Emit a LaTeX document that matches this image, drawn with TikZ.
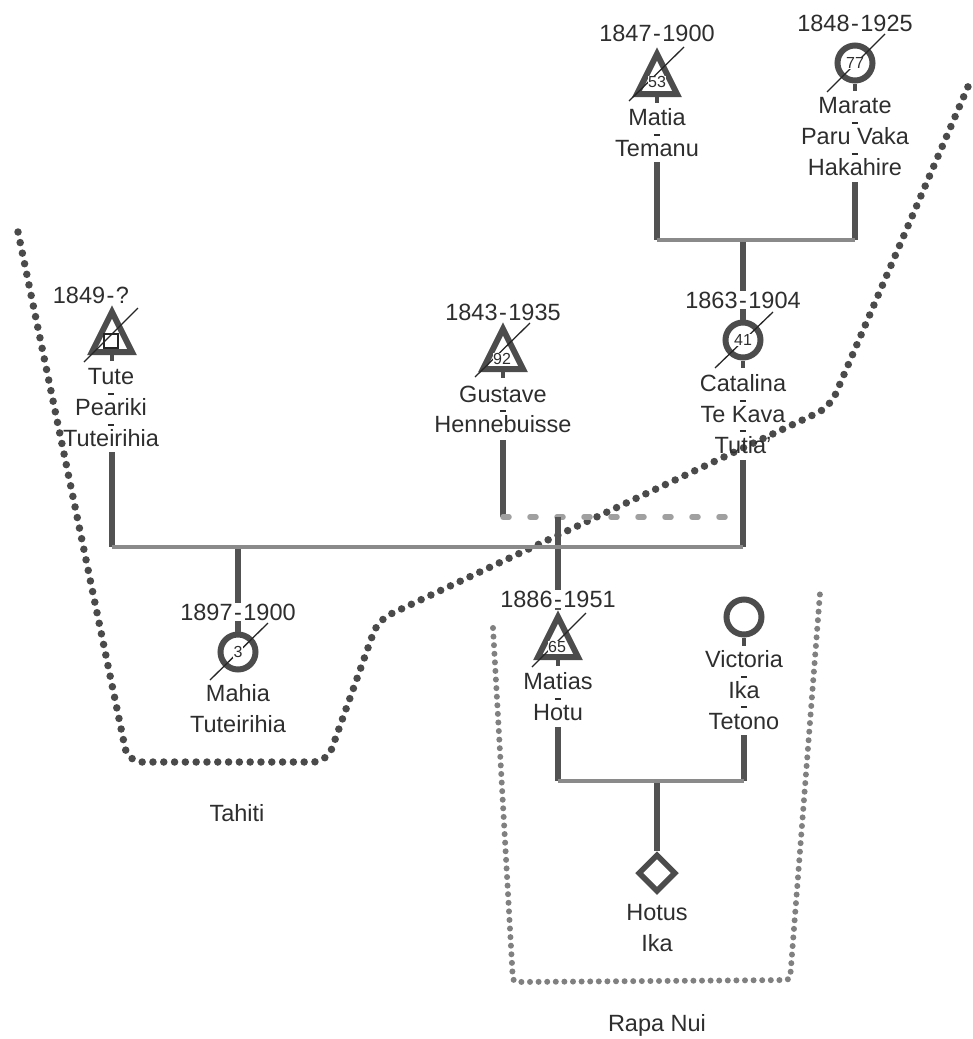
\documentclass[tikz,border=0pt]{standalone}
\usepackage{fontspec}
\setmainfont{Liberation Sans}
\usetikzlibrary{shapes.geometric}
\definecolor{tcol}{HTML}{2E2E2E}
\definecolor{scol}{HTML}{4C4C4C}
\definecolor{vcol}{HTML}{525252}
\definecolor{hcol}{HTML}{8A8A8A}
\definecolor{dcol}{HTML}{A0A0A0}
\definecolor{tahcol}{HTML}{4A4A4A}
\definecolor{rapcol}{HTML}{808080}
\newcommand{\sepbar}{\textcolor{tcol}{\rule[5.3pt]{6.2pt}{2pt}}}
\begin{document}
\begin{tikzpicture}[x=1pt,y=-1pt,
  datelab/.style={text=tcol, fill=white, inner sep=1pt, font=\fontsize{23.5}{28}\selectfont},
  placelab/.style={text=tcol, inner sep=0pt, font=\fontsize{23.5}{28}\selectfont},
  namelab/.style={text=tcol, inner sep=0pt, anchor=north, align=center, font=\fontsize{23.5}{28}\selectfont},
  numlab/.style={text=tcol, fill=white, inner sep=0.4pt, font=\fontsize{16}{16}\selectfont},
  femsym/.style={circle, draw=scol, fill=white, line width=6pt, minimum size=35pt, inner sep=0pt},
  unksym/.style={diamond, draw=scol, fill=white, line width=5.5pt, minimum size=38pt, inner sep=0pt, line join=miter},
  trisym/.style={draw=scol, fill=white, line width=6pt, line join=miter},
  vline/.style={draw=vcol, line width=5.5pt},
  stemline/.style={draw=scol, line width=4.5pt},
  hline/.style={draw=hcol, line width=4.5pt},
  dashline/.style={draw=dcol, line width=5.5pt, line cap=round, dash pattern=on 6pt off 21pt},
  slash/.style={draw=black!85, line width=1.3pt},
  tahdots/.style={draw=tahcol, line width=7.5pt, line cap=round, dash pattern=on 0pt off 10.8pt},
  rapdots/.style={draw=rapcol, line width=6pt, line cap=round, dash pattern=on 0pt off 8.6pt},
]
\useasboundingbox (0,0) rectangle (973,1039);

% ---------- dotted regions ----------
\draw[tahdots, rounded corners=14pt]
  (18,232) -- (128,762) -- (327,762) -- (378,620) -- (830,407) -- (970,82);
\draw[rapdots, rounded corners=4pt]
  (493,628) -- (513,982) -- (790,980) -- (820,593);

% ---------- named coordinates ----------
\coordinate (matiaStem) at (657,162);
\coordinate (marateStem) at (855,182);
\coordinate (u1L) at (657,240);
\coordinate (u1R) at (855,240);
\coordinate (u1M) at (743,240);
\coordinate (tuteStem) at (112,452);
\coordinate (catStem) at (743,460);
\coordinate (u2L) at (112,547);
\coordinate (u2R) at (743,547);
\coordinate (u2M) at (238,547);
\coordinate (gusStem) at (503,440);
\coordinate (u3L) at (503,517);
\coordinate (u3R) at (735,517);
\coordinate (u3M) at (558,517);
\coordinate (matiasTop) at (558,610);
\coordinate (matiasStem) at (558,727);
\coordinate (victStem) at (744,735);
\coordinate (u4L) at (558,781);
\coordinate (u4R) at (744,781);
\coordinate (u4M) at (657,781);

% ---------- symbols (circles, diamond) ----------
\node[femsym] (marate) at (855,63) {};
\node[femsym] (catalina) at (743,340) {};
\node[femsym] (mahia) at (238,652) {};
\node[femsym] (victoria) at (744,617) {};
\node[unksym] (hotus) at (657,873) {};

% ---------- connectors ----------
\draw[vline] (matiaStem) -- (u1L);
\draw[vline] (marateStem) -- (u1R);
\draw[vline] (u1M) -- (catalina.north);
\draw[hline] (u1L) -- (u1R);

\draw[vline] (tuteStem) -- (u2L);
\draw[vline] (catStem) -- (u2R);
\draw[vline] (u2M) -- (mahia.north);
\draw[vline] (gusStem) -- (u3L);
\draw[dashline] (u3L) -- (u3R);
\draw[vline] (u3M) -- (matiasTop);
\draw[hline] (u2L) -- (u2R);

\draw[vline] (matiasStem) -- (u4L);
\draw[vline] (victStem) -- (u4R);
\draw[vline] (u4M) -- (hotus.north);
\draw[hline] (u4L) -- (u4R);

% ---------- stems under symbols ----------
\draw[stemline] (marate.south) -- ++(0,7);
\draw[stemline] (catalina.south) -- ++(0,7);
\draw[stemline] (victoria.south) -- ++(0,8);

% ---------- triangles (males) ----------
\draw[trisym] (637,94) -- (657,54) -- (677,94) -- cycle;
\draw[stemline] (657,97) -- (657,103);
\draw[trisym] (483,369) -- (503,329) -- (523,369) -- cycle;
\draw[stemline] (503,372) -- (503,378);
\draw[trisym] (92,352) -- (112,312) -- (132,352) -- cycle;
\draw[stemline] (112,355) -- (112,361);
\draw[trisym] (538,657) -- (558,617) -- (578,657) -- cycle;
\draw[stemline] (558,660) -- (558,666);

% ---------- slashes (deceased) ----------
\coordinate (matiaC) at (657,74);
\coordinate (gusC) at (503,350);
\coordinate (tuteC) at (111,335);
\coordinate (matiasC) at (559,640);
\draw[slash] ([shift={(-28,27)}]matiaC) -- ([shift={(27,-27)}]matiaC);
\draw[slash] ([shift={(-28,27)}]gusC) -- ([shift={(27,-27)}]gusC);
\draw[slash] ([shift={(-27,27)}]tuteC) -- ([shift={(27,-27)}]tuteC);
\draw[slash] ([shift={(-27,27)}]matiasC) -- ([shift={(27,-27)}]matiasC);
\draw[slash] ([shift={(-28,29)}]marate.center) -- ([shift={(30,-29)}]marate.center);
\draw[slash] ([shift={(-28,28)}]catalina.center) -- ([shift={(30,-28)}]catalina.center);
\draw[slash] ([shift={(-28,28)}]mahia.center) -- ([shift={(30,-29)}]mahia.center);

% ---------- ages ----------
\node[numlab] (age53) at (657,82) {53};
\node[numlab] (age77) at (855,63) {77};
\node[numlab] (age92) at (502,359) {92};
\node[numlab] (age41) at (743,340) {41};
\node[numlab] (age3) at (238,652) {3};
\node[numlab] (age65) at (557,647) {65};
\draw[draw=black!85, line width=1.1pt] (104,334) rectangle (118,348);

% ---------- dates ----------
\node[datelab] (d1) at (657,33) {1847\kern1.5pt-\kern1.5pt1900};
\node[datelab] (d2) at (855,23) {1848\kern1.5pt-\kern1.5pt1925};
\node[datelab] (d3) at (91,295) {1849\kern1.5pt-\kern1.5pt?};
\node[datelab] (d4) at (503,312) {1843\kern1.5pt-\kern1.5pt1935};
\node[datelab] (d5) at (743,300) {1863\kern1.5pt-\kern1.5pt1904};
\node[datelab] (d6) at (238,612) {1897\kern1.5pt-\kern1.5pt1900};
\node[datelab] (d7) at (558,599) {1886\kern1.5pt-\kern1.5pt1951};

% ---------- names ----------
\node[namelab] (nMatia) at (657,108.6) {Matia\\[-12.7pt]\sepbar\\[-12.7pt]Temanu};
\node[namelab] (nMarate) at (855,97.6) {Marate\\[-12.7pt]\sepbar\\[-12.7pt]Paru Vaka\\[-12.7pt]\sepbar\\[-12.7pt]Hakahire};
\node[namelab] (nTute) at (111,368.6) {Tute\\[-12.7pt]\sepbar\\[-12.7pt]Peariki\\[-12.7pt]\sepbar\\[-12.7pt]Tuteirihia};
\node[namelab] (nGus) at (503,385.6) {Gustave\\[-12.7pt]\sepbar\\[-12.7pt]Hennebuisse};
\node[namelab] (nCat) at (743,374.6) {Catalina\\[-12.7pt]\sepbar\\[-12.7pt]Te Kava\\[-12.7pt]\sepbar\\[-12.7pt]Tutia'};
\node[namelab] (nMahia) at (238,684.6) {Mahia\\[-12.7pt]\phantom{\sepbar}\\[-12.7pt]Tuteirihia};
\node[namelab] (nMatias) at (558,672.6) {Matias\\[-12.7pt]\sepbar\\[-12.7pt]Hotu};
\node[namelab] (nVict) at (744,650.6) {Victoria\\[-12.7pt]\sepbar\\[-12.7pt]Ika\\[-12.7pt]\sepbar\\[-12.7pt]Tetono};
\node[namelab] (nHotus) at (657,904.6) {Hotus\\[-12.7pt]\phantom{\sepbar}\\[-12.7pt]Ika};

% ---------- places ----------
\node[placelab] (tahiti) at (237,813) {Tahiti};
\node[placelab] (rapanui) at (657,1025) {Rapa Nui};
\end{tikzpicture}
\end{document}
